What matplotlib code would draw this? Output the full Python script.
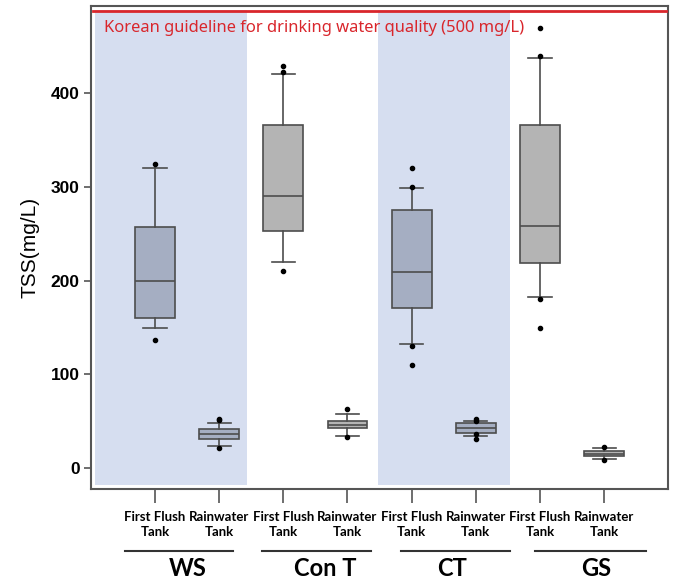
import matplotlib
matplotlib.use("Agg")
import matplotlib.pyplot as plt
import matplotlib.transforms as mtransforms

# ---- data (TSS, mg/L) ----
sites = ['WS', 'Con T', 'CT', 'GS']
tank_labels = ['First Flush\nTank', 'Rainwater\nTank'] * 4
q1 = [160, 31, 253, 42.5, 171, 38, 219, 12.5]
med = [200, 36, 290, 46, 209, 43, 258, 15]
q3 = [257, 42, 366, 50, 275, 48, 366, 18]
whis_lo = [150, 24, 220, 34, 132, 34, 182, 10]
whis_hi = [320, 48, 420, 57.5, 299, 50, 437, 21]
fliers = [[137, 324], [22, 51, 52], [210, 422, 429], [33, 63],
          [110, 130, 300, 320], [31, 36, 50, 52], [150, 180, 440, 469], [9, 23]]
guideline = 487
guideline_text = 'Korean guideline for drinking water quality (500 mg/L)'
yticks = [0, 100, 200, 300, 400]

# layout of the site brackets under the axis (x in data units)
group_spans = [(0.53, 2.22), (2.66, 4.37), (4.84, 6.53), (6.92, 8.65)]
group_label_x = [1.51, 3.65, 5.63, 7.87]

fig = plt.figure(figsize=(6.73, 5.81), dpi=100)
ax = fig.add_axes([0.135, 0.158, 0.858, 0.832])

positions = list(range(1, 9))
ax.set_xlim(0, 9)
ax.set_ylim(-22.4, 493)

# shaded site bands (WS and CT)
band_col = '#d6def0'
for x0, x1 in [(0.06, 2.43), (4.48, 6.54)]:
    ax.fill_between([x0, x1], -18, 488, color=band_col, lw=0, zorder=0)

stats = []
for i in range(8):
    stats.append({'med': med[i], 'q1': q1[i], 'q3': q3[i],
                  'whislo': whis_lo[i], 'whishi': whis_hi[i],
                  'fliers': fliers[i]})

edge = '#4d4d4d'
bp = ax.bxp(stats, positions=positions, widths=0.62, patch_artist=True,
            showfliers=True,
            boxprops=dict(edgecolor=edge, linewidth=1.2),
            medianprops=dict(color=edge, linewidth=1.2),
            whiskerprops=dict(color=edge, linewidth=1.2),
            capprops=dict(color=edge, linewidth=1.2),
            flierprops=dict(marker='o', markersize=3, markerfacecolor='black',
                            markeredgecolor='black'),
            capwidths=0.36)
for i, box in enumerate(bp['boxes']):
    shaded = (i // 2) in (0, 2)
    box.set_facecolor('#a5aec2' if shaded else '#b4b4b4')
    box.set_zorder(2)

# guideline
ax.axhline(guideline, xmin=0.004, xmax=0.996, color='#d9262c', lw=2, zorder=3)
ax.text(0.022, 0.954, guideline_text, transform=ax.transAxes, color='#d9262c',
        fontsize=11.9, family='Noto Sans', va='center', ha='left')

# axes style
for s in ax.spines.values():
    s.set_color('#555555')
    s.set_linewidth(1.5)

ax.set_yticks(yticks)
ax.set_yticklabels([str(v) for v in yticks], fontsize=12.5, fontweight='bold',
                   family='Liberation Sans')
ax.tick_params(axis='y', length=5, width=1.2, color='#555555', pad=3)

ax.set_xticks(positions)
ax.set_xticklabels(tank_labels, fontsize=9.5, fontweight='bold', family='Lato',
                   linespacing=1.3)
ax.tick_params(axis='x', length=10, width=1.2, color='#555555', pad=6)

ax.set_ylabel('TSS(mg/L)', fontsize=15, family='Liberation Sans', labelpad=8)

# site brackets and names under the tick labels
trans = mtransforms.blended_transform_factory(ax.transData, ax.transAxes)
for name, (x0, x1), xl in zip(sites, group_spans, group_label_x):
    ax.plot([x0, x1], [-0.128, -0.128], color='#333333', lw=1.5,
            transform=trans, clip_on=False)
    ax.text(xl, -0.165, name, transform=trans, ha='center', va='center',
            fontsize=17, fontweight='bold', family='Lato')

fig.savefig('out.png', dpi=100)
